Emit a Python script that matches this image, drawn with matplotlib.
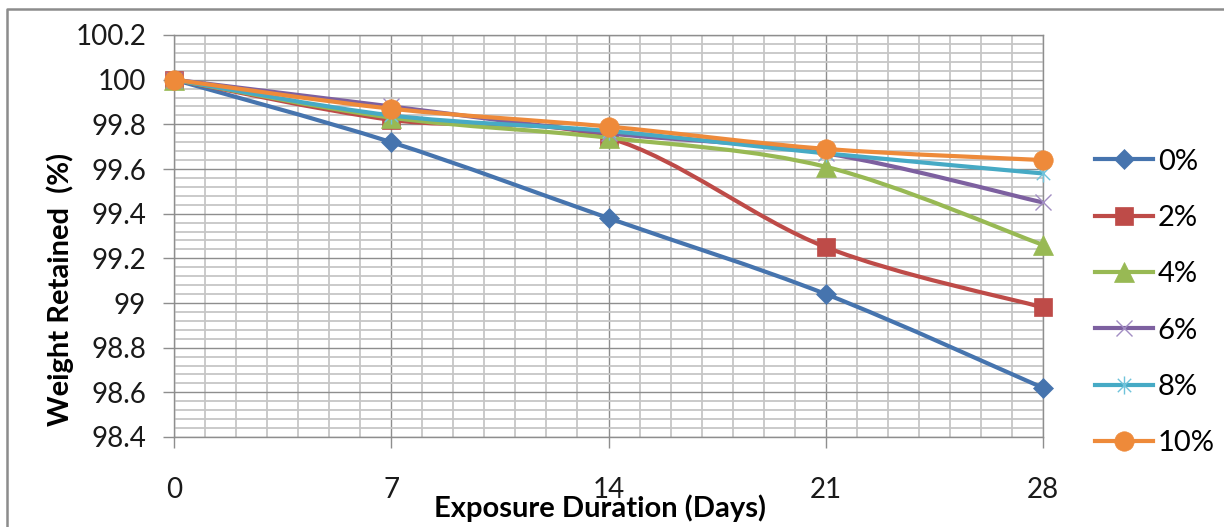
import matplotlib
matplotlib.use("Agg")
import matplotlib.pyplot as plt
from matplotlib.path import Path
from matplotlib.patches import PathPatch
from matplotlib.lines import Line2D
from matplotlib.ticker import FixedLocator, MultipleLocator

plt.rcParams['font.family'] = ['Lato', 'DejaVu Sans']

# Exposure duration (days)
days = [0, 7, 14, 21, 28]

# Weight retained (%) per replacement level
series_labels = ["0%", "2%", "4%", "6%", "8%", "10%"]
w0 = [100.0, 99.72, 99.38, 99.04, 98.62]
w2 = [100.0, 99.82, 99.74, 99.25, 98.98]
w4 = [100.0, 99.83, 99.74, 99.61, 99.26]
w6 = [100.0, 99.88, 99.76, 99.67, 99.45]
w8 = [100.0, 99.84, 99.77, 99.67, 99.58]
w10 = [100.0, 99.87, 99.79, 99.69, 99.64]

y_ticks = [98.4, 98.6, 98.8, 99.0, 99.2, 99.4, 99.6, 99.8, 100.0, 100.2]
y_tick_labels = ["98.4", "98.6", "98.8", "99", "99.2", "99.4", "99.6", "99.8", "100", "100.2"]

line_colors = ["#4674AE", "#BE4B48", "#98B954", "#7D60A0", "#46AAC5", "#EE8A3A"]

# asterisk marker: an X with a vertical stroke
star_path = Path([(-1, -1), (1, 1), (-1, 1), (1, -1), (0, -1.35), (0, 1.35)],
                 [Path.MOVETO, Path.LINETO, Path.MOVETO, Path.LINETO, Path.MOVETO, Path.LINETO])

marker_styles = [
    dict(marker="D", markersize=10.5, markerfacecolor="#4674AE", markeredgecolor="#4674AE", markeredgewidth=0.5),
    dict(marker="s", markersize=13, markerfacecolor="#BE4B48", markeredgecolor="#BE4B48", markeredgewidth=0.5),
    dict(marker="^", markersize=14, markerfacecolor="#98B954", markeredgecolor="#98B954", markeredgewidth=0.5),
    dict(marker="x", markersize=12, markerfacecolor="none", markeredgecolor="#A28DC3", markeredgewidth=1.0),
    dict(marker=star_path, markersize=13, markerfacecolor="none", markeredgecolor="#6FC3DB", markeredgewidth=1.0),
    dict(marker="o", markersize=14, markerfacecolor="#EE8A3A", markeredgecolor="#EE8A3A", markeredgewidth=0.5),
]

all_series = [w0, w2, w4, w6, w8, w10]


def smooth_path(xs, ys):
    """Cubic Bezier path through the points (Catmull-Rom style tangents)."""
    pts = list(zip(xs, ys))
    n = len(pts)
    verts = [pts[0]]
    codes = [Path.MOVETO]
    for i in range(n - 1):
        p0 = pts[i - 1] if i > 0 else pts[i]
        p1 = pts[i]
        p2 = pts[i + 1]
        p3 = pts[i + 2] if i + 2 < n else pts[i + 1]
        c1 = (p1[0] + (p2[0] - p0[0]) / 6.0, p1[1] + (p2[1] - p0[1]) / 6.0)
        c2 = (p2[0] - (p3[0] - p1[0]) / 6.0, p2[1] - (p3[1] - p1[1]) / 6.0)
        verts += [c1, c2, p2]
        codes += [Path.CURVE4, Path.CURVE4, Path.CURVE4]
    return Path(verts, codes)


W, H = 1224, 527
fig = plt.figure(figsize=(W / 100, H / 100), dpi=100)
fig.patch.set_facecolor("white")

# chart-area border (left and top edges)
fig.add_artist(Line2D([7 / W, 7 / W, 1.0], [0.0, 1 - 9 / H, 1 - 9 / H],
                      transform=fig.transFigure, color="#8C8C8C", lw=1.8))

L, R, T, B = 174, 1043, 35, 437
ax = fig.add_axes([L / W, 1 - B / H, (R - L) / W, (B - T) / H])

ax.set_xlim(0, 28)
ax.set_ylim(98.4, 100.2)

ax.xaxis.set_major_locator(FixedLocator(days))
ax.xaxis.set_minor_locator(MultipleLocator(1))
ax.yaxis.set_major_locator(FixedLocator(y_ticks))
ax.yaxis.set_minor_locator(MultipleLocator(0.04))
ax.set_yticklabels(y_tick_labels)
ax.set_xticklabels([str(d) for d in days])

ax.grid(which="minor", color="#C6C6C6", lw=1.3, zorder=0)
ax.grid(which="major", color="#8E8E8E", lw=1.0, zorder=0)
ax.set_axisbelow(True)

for s in ax.spines.values():
    s.set_color("#8E8E8E")
    s.set_linewidth(1.0)

ax.tick_params(which="major", direction="out", length=8, width=1.0, color="#8E8E8E",
               labelsize=20, labelcolor="#1A1A1A")
ax.tick_params(axis="y", which="major", pad=12)
ax.tick_params(axis="x", which="major", pad=21)
ax.tick_params(which="minor", length=0)

for i, (ys, col, mstyle) in enumerate(zip(all_series, line_colors, marker_styles)):
    patch = PathPatch(smooth_path(days, ys), facecolor="none", edgecolor=col,
                      lw=3.0, capstyle="round", joinstyle="round", zorder=3 + 2 * i)
    ax.add_patch(patch)
    ax.plot(days, ys, linestyle="none", zorder=4 + 2 * i, clip_on=False, **mstyle)

ax.set_xlabel("Exposure Duration (Days)", fontsize=21, fontweight="bold")
ax.xaxis.set_label_coords(0.49, -0.176)
ax.xaxis.label.set_va("center")

ax.set_ylabel("Weight Retained  (%)", fontsize=21, fontweight="bold")
ax.yaxis.set_label_coords(-0.131, 0.366)
ax.yaxis.label.set_va("center")

handles = [Line2D([], [], color=c, lw=3.0, **m) for c, m in zip(line_colors, marker_styles)]
leg = fig.legend(handles, series_labels, loc="center left",
                 bbox_to_anchor=(1095 / W, 1 - 302.5 / H), frameon=False,
                 fontsize=21, handlelength=2.0, handletextpad=0.15,
                 labelspacing=1.04, borderpad=0, borderaxespad=0)

fig.savefig("out.png", dpi=100)
